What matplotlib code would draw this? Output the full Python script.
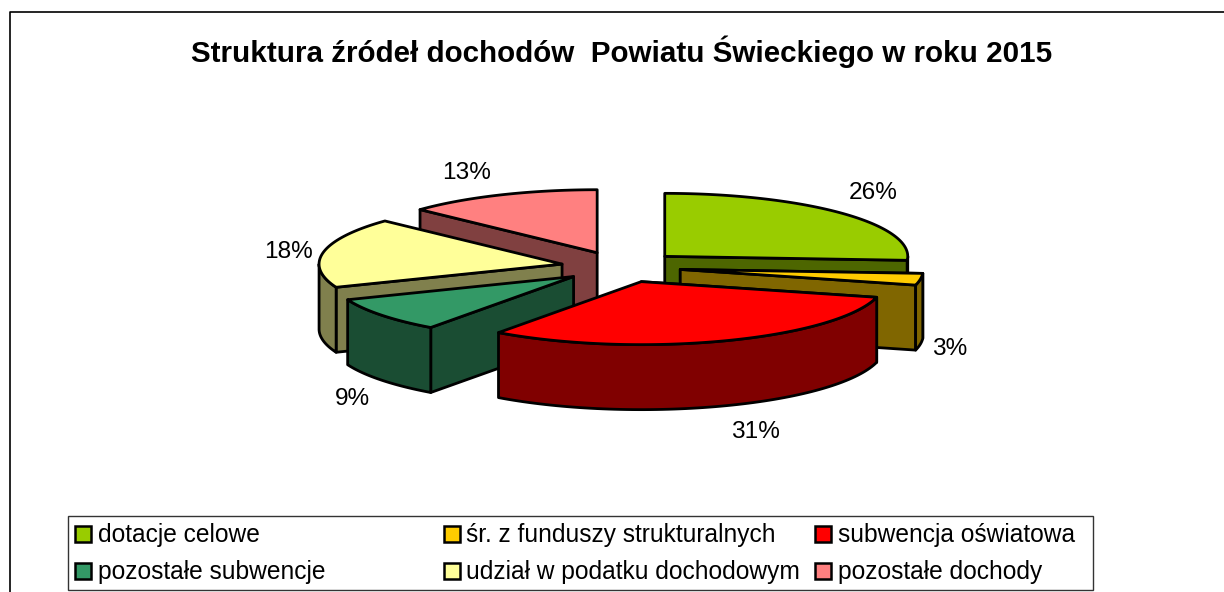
import numpy as np
import matplotlib
matplotlib.use('Agg')
import matplotlib.pyplot as plt
from matplotlib.patches import Polygon, Rectangle

plt.rcParams['font.family'] = ['Liberation Sans', 'DejaVu Sans']

title = 'Struktura źródeł dochodów  Powiatu Świeckiego w roku 2015'
labels = ['dotacje celowe', 'śr. z funduszy strukturalnych', 'subwencja oświatowa',
          'pozostałe subwencje', 'udział w podatku dochodowym', 'pozostałe dochody']
values = [26, 3, 31, 9, 18, 13]
top_colors = ['#99CC00', '#FFCC00', '#FF0000', '#339966', '#FFFF99', '#FF8080']
side_colors = ['#4D6600', '#806600', '#800000', '#1A4D33', '#80804D', '#804040']

# pie geometry, in pixels of the 1224x592 picture
cx, cy = 621, 267
rx, ry = 243, 63
depth = 65
explode = 60
ratio = ry / rx
lw = 2.0

# painter's order, back to front
draw_order = [5, 0, 4, 1, 3, 2]
label_pos = [(873, 193), (950, 349), (755, 432), (352, 399), (288, 252), (467, 173)]
legend_x = [75, 444, 815]
legend_y = [534, 571]


def point(ax0, ay0, a):
    return ax0 + rx * np.sin(a), ay0 - ry * np.cos(a)


def add_poly(ax, pts, color, z):
    ax.add_patch(Polygon(pts, closed=True, facecolor=color, edgecolor='black',
                         linewidth=lw, joinstyle='round', zorder=z))


def draw_slice(ax, a0, a1, top, side, z):
    mid = (a0 + a1) / 2
    ax0 = cx + explode * np.sin(mid)
    ay0 = cy - explode * ratio * np.cos(mid)
    p0 = point(ax0, ay0, a0)
    p1 = point(ax0, ay0, a1)

    # cut faces, only the ones turned to the viewer
    if np.cos(a0) < -1e-6 or (np.sin(a0) < 0 and np.cos(a0) < 0.99):
        add_poly(ax, [(ax0, ay0), p0, (p0[0], p0[1] + depth), (ax0, ay0 + depth)], side, z)
    if np.sin(a1) > 0 and a1 < np.pi:
        add_poly(ax, [(ax0, ay0), p1, (p1[0], p1[1] + depth), (ax0, ay0 + depth)], side, z)

    # outer wall, the part of the rim at the front
    w0, w1 = max(a0, np.pi / 2), min(a1, 3 * np.pi / 2)
    if w1 > w0:
        t = np.linspace(w0, w1, 80)
        xs = ax0 + rx * np.sin(t)
        ys = ay0 - ry * np.cos(t)
        pts = list(zip(xs, ys)) + list(zip(xs[::-1], ys[::-1] + depth))
        add_poly(ax, pts, side, z)

    # top face
    t = np.linspace(a0, a1, 120)
    pts = [(ax0, ay0)] + list(zip(ax0 + rx * np.sin(t), ay0 - ry * np.cos(t)))
    add_poly(ax, pts, top, z)


fig = plt.figure(figsize=(12.24, 5.92), dpi=100)
ax = fig.add_axes([0, 0, 1, 1])
ax.set_xlim(0, 1224)
ax.set_ylim(592, 0)
ax.axis('off')

# chart border
ax.plot([9.5, 9.5, 1224], [592, 11.5, 11.5], color='black', lw=1.2, zorder=1)

ax.text(622, 52, title, ha='center', va='center', fontsize=21.33, fontweight='bold', color='black')

angles = np.cumsum([0] + values) / sum(values) * 2 * np.pi
for i in draw_order:
    draw_slice(ax, angles[i], angles[i + 1], top_colors[i], side_colors[i], 2 + draw_order.index(i))

for v, (x, y) in zip(values, label_pos):
    ax.text(x, y, '%d%%' % v, ha='center', va='center', fontsize=17.6, color='black', zorder=20)

# legend
ax.add_patch(Rectangle((67.5, 515.5), 1025, 74.5, facecolor='white', edgecolor='#333333', lw=1, zorder=10))
for i, name in enumerate(labels):
    x = legend_x[i % 3]
    y = legend_y[i // 3]
    ax.add_patch(Rectangle((x, y - 8), 16, 16, facecolor=top_colors[i], edgecolor='black', lw=1.8, zorder=11))
    ax.text(x + 22.5, y + 1, name, ha='left', va='center', fontsize=17.65, color='black', zorder=11)

fig.savefig('out.png', dpi=100)
